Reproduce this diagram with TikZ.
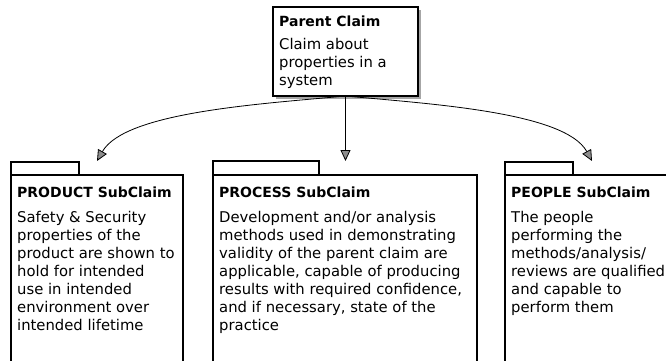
\documentclass[tikz,border=0pt]{standalone}
\usepackage{fontspec}
\setmainfont{DejaVu Sans}
\usetikzlibrary{arrows.meta,shadows}

% left-aligned block of lines, baseline on the first line
\newcommand\bodylines[1]{{\fontsize{14.8}{18}\selectfont\begin{tabular}[t]{@{}l@{}}#1\end{tabular}}}

\begin{document}
\begin{tikzpicture}[x=1pt,y=-1pt,
  frame/.style={draw, line width=1.2pt, rectangle, anchor=north west,
                inner sep=0pt, outer sep=0pt},
  title/.style={anchor=base west, inner sep=0pt, font=\fontsize{14}{17}\selectfont\bfseries},
  body/.style={anchor=base west, inner sep=0pt},
  link/.style={line width=0.8pt, -{Triangle[width=10pt,length=11pt,fill=black!45]}}]

\useasboundingbox (0,0) rectangle (666,360);
\clip (0,0) rectangle (666,360);

% parent claim
\node[frame, fill=white, minimum width=145pt, minimum height=89pt,
      drop shadow={shadow xshift=3pt, shadow yshift=-3pt, fill=gray!70, opacity=1}]
      (parent) at (273,7) {};
\node[title] (parentT) at (279,26) {Parent Claim};
\node[body] (parentB) at (279,49) {\bodylines{Claim about\\properties in a\\system}};

% sub-claim boxes with tabs
\node[frame, minimum width=68pt, minimum height=13pt] (prodtab) at (11,162) {};
\node[frame, minimum width=172pt, minimum height=220pt] (prod) at (11,175) {};
\node[title] (prodT) at (17,197) {PRODUCT SubClaim};
\node[body] (prodB) at (17,222) {\bodylines{Safety \& Security\\properties of the\\product are shown to\\hold for intended\\use in intended\\environment over\\intended lifetime}};

\node[frame, minimum width=106pt, minimum height=14pt] (proctab) at (213,161) {};
\node[frame, minimum width=264pt, minimum height=220pt] (proc) at (213,175) {};
\node[title] (procT) at (219,197) {PROCESS SubClaim};
\node[body] (procB) at (219,222) {\bodylines{Development and/or analysis\\methods used in demonstrating\\validity of the parent claim are\\applicable, capable of producing\\results with required confidence,\\and if necessary, state of the\\practice}};

\node[frame, minimum width=68pt, minimum height=13pt] (peoptab) at (505,162) {};
\node[frame, minimum width=200pt, minimum height=220pt] (peop) at (505,175) {};
\node[title] (peopT) at (511,197) {PEOPLE SubClaim};
\node[body] (peopB) at (511,222) {\bodylines{The people\\performing the\\methods/analysis/\\reviews are qualified\\and capable to\\perform them}};

% arrow targets above each sub-claim
\coordinate (prodin) at (97,161);
\coordinate (procin) at (345.5,161);
\coordinate (peopin) at (592,161);

\draw[link] (parent.south) .. controls (260,104) and (125,112) .. (prodin);
\draw[link] (parent.south) -- (procin);
\draw[link] (parent.south) .. controls (431,104) and (565,112) .. (peopin);
\end{tikzpicture}
\end{document}
